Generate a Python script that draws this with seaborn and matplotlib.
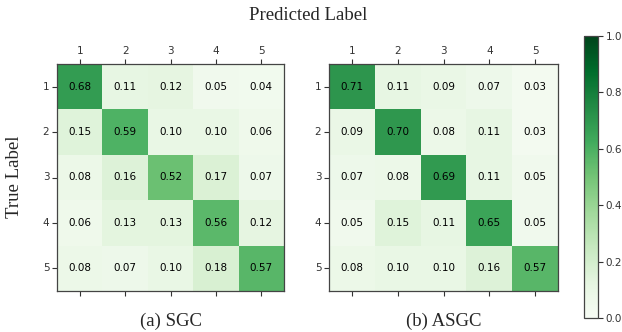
import numpy as np
import matplotlib
matplotlib.use("Agg")
import matplotlib.pyplot as plt
import seaborn as sns

labels = ["1", "2", "3", "4", "5"]
sgc = [
    [0.68, 0.11, 0.12, 0.05, 0.04],
    [0.15, 0.59, 0.10, 0.10, 0.06],
    [0.08, 0.16, 0.52, 0.17, 0.07],
    [0.06, 0.13, 0.13, 0.56, 0.12],
    [0.08, 0.07, 0.10, 0.18, 0.57],
]
asgc = [
    [0.71, 0.11, 0.09, 0.07, 0.03],
    [0.09, 0.70, 0.08, 0.11, 0.03],
    [0.07, 0.08, 0.69, 0.11, 0.05],
    [0.05, 0.15, 0.11, 0.65, 0.05],
    [0.08, 0.10, 0.10, 0.16, 0.57],
]
titles = ["(a) SGC", "(b) ASGC"]

sns.set_style("white")
W, H = 622, 332
fig = plt.figure(figsize=(W / 100, H / 100), dpi=100)

def rect(x0, y0, x1, y1):
    return [x0 / W, 1 - y1 / H, (x1 - x0) / W, (y1 - y0) / H]

ax1 = fig.add_axes(rect(57, 64, 284, 291))
ax2 = fig.add_axes(rect(329, 64, 558, 291))
cax = fig.add_axes(rect(584, 36, 598, 318))

serif = "Liberation Serif"
for ax, data, title in [(ax1, sgc, titles[0]), (ax2, asgc, titles[1])]:
    sns.heatmap(np.array(data), ax=ax, cmap="Greens", vmin=0, vmax=1,
                annot=True, fmt=".2f", cbar=False, square=False,
                annot_kws={"color": "black", "fontsize": 7.5},
                xticklabels=labels, yticklabels=labels)
    ax.tick_params(axis="x", top=True, labeltop=True, bottom=True,
                   labelbottom=False, length=3.5, width=0.8,
                   colors="#333333", labelsize=7.5, pad=2)
    ax.tick_params(axis="y", left=True, length=3.5, width=0.8,
                   colors="#333333", labelsize=7.5, pad=2, rotation=0)
    for s in ax.spines.values():
        s.set_visible(True)
        s.set_color("#444444")
        s.set_linewidth(0.9)
    ax.set_xlabel(title, fontfamily=serif, fontsize=13.5, labelpad=12)
    ax.set_ylabel("")

sm = plt.cm.ScalarMappable(cmap="Greens", norm=plt.Normalize(0, 1))
cb = fig.colorbar(sm, cax=cax, ticks=[0, 0.2, 0.4, 0.6, 0.8, 1.0])
cb.outline.set_edgecolor("#444444")
cb.outline.set_linewidth(0.9)
cax.tick_params(labelsize=7.5, length=3.5, width=0.8, colors="#333333", pad=2)
cax.set_yticklabels(["0.0", "0.2", "0.4", "0.6", "0.8", "1.0"])

fig.text(308 / W, 1 - 15 / H, "Predicted Label", fontfamily=serif,
         fontsize=13.5, ha="center", va="center")
fig.text(15 / W, 1 - 177 / H, "True Label", fontfamily=serif,
         fontsize=13.5, ha="center", va="center", rotation=90)

fig.savefig("out.png", dpi=100)
